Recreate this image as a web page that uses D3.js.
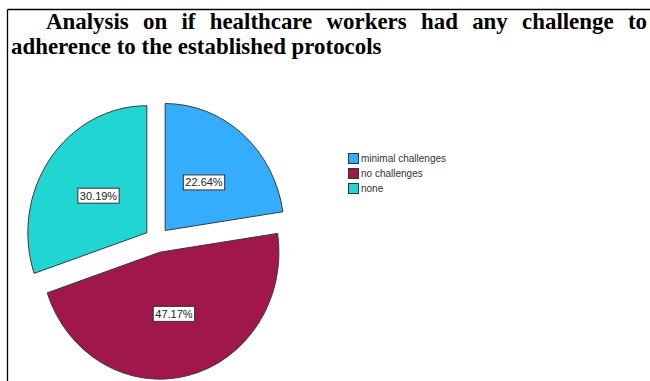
<!DOCTYPE html>
<html>
<head>
<meta charset="utf-8">
<script src="https://cdn.jsdelivr.net/npm/d3@7"></script>
<style>
  html, body { margin: 0; padding: 0; background: #fff; }
  svg { display: block; }
</style>
</head>
<body>
<svg id="chart" width="650" height="381"></svg>
<script>
// Responses on challenges with adherence to the established protocols
const categories = ["minimal challenges", "no challenges", "none"];
const values = [22.64, 47.17, 30.19];
const colors = ["#33adfc", "#a0174b", "#21d6d2"];
const titleLine1 = "Analysis on if healthcare workers had any challenge to";
const titleLine2 = "adherence to the established protocols";

const svg = d3.select("#chart");
const W = 650, H = 381;

// frame lines (top and left)
svg.append("line").attr("x1", 7.5).attr("y1", 9.5).attr("x2", W).attr("y2", 9.5)
  .attr("stroke", "#000").attr("stroke-width", 1.3);
svg.append("line").attr("x1", 7.5).attr("y1", 9.5).attr("x2", 7.5).attr("y2", H)
  .attr("stroke", "#000").attr("stroke-width", 1.3);

// title: first line justified between indent and right edge
const titleFont = "'Liberation Serif', 'Times New Roman', serif";
const titleSize = 22.9;
const t1 = svg.append("g");
const words = titleLine1.split(" ");
const wordNodes = words.map(w => t1.append("text")
  .attr("font-family", titleFont).attr("font-weight", "bold")
  .attr("font-size", titleSize).attr("y", 29).attr("fill", "#000").text(w));
const widths = wordNodes.map(n => n.node().getComputedTextLength());
const x0 = 46, x1 = 647;
const gap = (x1 - x0 - d3.sum(widths)) / (words.length - 1);
let cx = x0;
wordNodes.forEach((n, i) => { n.attr("x", cx); cx += widths[i] + gap; });

svg.append("text")
  .attr("font-family", titleFont).attr("font-weight", "bold")
  .attr("font-size", titleSize).attr("x", 11).attr("y", 54).attr("fill", "#000")
  .text(titleLine2);

// exploded elliptical pie
const center = { x: 157, y: 240 };
const rx = 119, ry = 127, explode = 12.5;

const pie = d3.pie().sort(null).value(d => d.value);
const arcs = pie(categories.map((c, i) => ({ name: c, value: values[i], color: colors[i] })));
const arc = d3.arc().innerRadius(0).outerRadius(ry);
const sx = rx / ry;

const slices = svg.append("g");
arcs.forEach(a => {
  const mid = (a.startAngle + a.endAngle) / 2;
  const dx = Math.sin(mid) * explode, dy = -Math.cos(mid) * explode;
  const g = slices.append("g")
    .attr("transform", `translate(${center.x + dx},${center.y + dy})`);
  g.append("path")
    .attr("d", arc(a))
    .attr("transform", `scale(${sx},1)`)
    .attr("fill", a.data.color)
    .attr("stroke", "#3a3a3a")
    .attr("stroke-width", 1)
    .attr("vector-effect", "non-scaling-stroke");
});

// percentage labels in boxes at half radius
const labels = svg.append("g");
arcs.forEach(a => {
  const mid = (a.startAngle + a.endAngle) / 2;
  const dx = Math.sin(mid) * explode, dy = -Math.cos(mid) * explode;
  const lx = center.x + dx + Math.sin(mid) * rx * 0.5;
  const ly = center.y + dy - Math.cos(mid) * ry * 0.5;
  const txt = d3.format(".2f")(a.data.value) + "%";
  const g = labels.append("g").attr("transform", `translate(${lx},${ly})`);
  const rect = g.append("rect");
  const t = g.append("text")
    .attr("font-family", "'Liberation Sans', Arial, sans-serif")
    .attr("font-size", 11).attr("fill", "#222")
    .attr("text-anchor", "middle").attr("dy", "0.35em").text(txt);
  const w = t.node().getComputedTextLength() + 4;
  rect.attr("x", -w / 2).attr("y", -7.5).attr("width", w).attr("height", 15)
    .attr("fill", "#fff").attr("stroke", "#333").attr("stroke-width", 1);
});

// legend
const legend = svg.append("g").attr("transform", "translate(348,153)");
categories.forEach((c, i) => {
  const row = legend.append("g").attr("transform", `translate(0,${i * 15})`);
  row.append("rect").attr("x", 0.5).attr("y", 0.5).attr("width", 10).attr("height", 10)
    .attr("fill", colors[i]).attr("stroke", "#333").attr("stroke-width", 1);
  row.append("text").attr("x", 13).attr("y", 5.5).attr("dy", "0.35em")
    .attr("font-family", "'Liberation Sans', Arial, sans-serif")
    .attr("font-size", 10).attr("fill", "#333").text(c);
});
</script>
</body>
</html>
